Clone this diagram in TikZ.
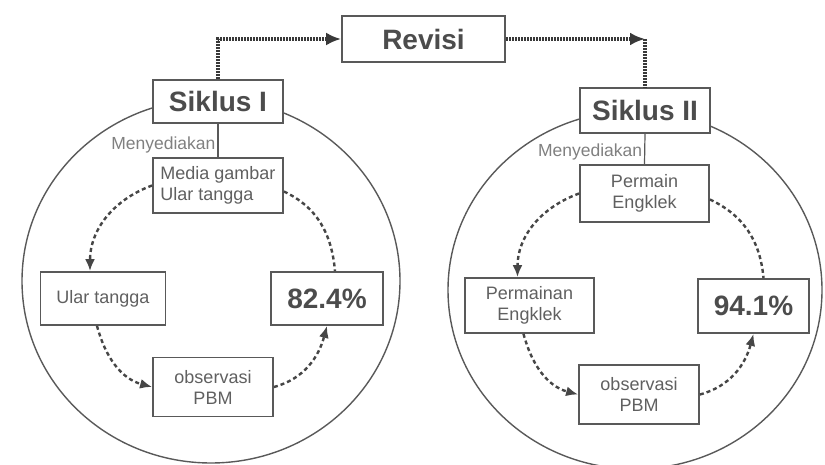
\documentclass[tikz,border=0pt]{standalone}
\usepackage{fontspec}
\setmainfont{Liberation Sans}
\usetikzlibrary{arrows.meta}

\begin{document}
\begin{tikzpicture}[x=1pt,y=1pt,
  box/.style={draw=gray!70!black,line width=1.8pt,fill=white,inner sep=1pt,text=gray!75!black,font=\fontsize{18}{21}\selectfont,align=center},
  head/.style={box,font=\fontsize{28}{30}\selectfont\bfseries,text=gray!60!black},
  ring/.style={draw=gray!70!black,line width=1.4pt},
  flow/.style={draw=gray!45!black,line width=3.5pt,dash pattern=on 2pt off 1pt},
  loopline/.style={draw=gray!55!black,line width=2.4pt,dash pattern=on 4pt off 3pt},
  link/.style={draw=gray!70!black,line width=1.2pt},
  lbl/.style={text=gray,font=\fontsize{17.5}{20}\selectfont,inner sep=2pt}]
\useasboundingbox (0,0) rectangle (825,-465);
\draw[ring] (211,-281) ellipse [x radius=189, y radius=182];
\draw[ring] (635,-290) ellipse [x radius=187, y radius=179];

\node[head,minimum width=163pt,minimum height=46pt] (rev) at (423.5,-39) {Revisi};
\node[head,minimum width=130pt,minimum height=43pt] (s1) at (218,-101.5) {Siklus I};
\node[head,minimum width=130pt,minimum height=45pt] (s2) at (645,-110.5) {Siklus II};

\node[box,align=left,minimum width=130pt,minimum height=55pt] (m1) at (218,-185.5) {Media gambar\\Ular tangga};
\node[box,minimum width=125pt,minimum height=53pt] (u1) at (103,-298.5) {Ular tangga};
\node[head,minimum width=112pt,minimum height=53pt] (p1) at (327,-298.5) {82.4\%};
\node[box,minimum width=120pt,minimum height=59pt] (o1) at (213,-387) {observasi\\PBM};

\node[box,minimum width=129pt,minimum height=57pt] (m2) at (644.5,-193.5) {Permain\\Engklek};
\node[box,minimum width=129pt,minimum height=55pt] (u2) at (529.5,-305.5) {Permainan\\Engklek};
\node[head,minimum width=111pt,minimum height=54pt] (p2) at (753.5,-306) {94.1\%};
\node[box,minimum width=120pt,minimum height=59pt] (o2) at (639,-394.5) {observasi\\PBM};

\coordinate (c2) at (s2.north |- rev.east);
\draw[flow,-{Latex[length=15pt,width=13pt]}] (s1.north) |- (rev.west);
\draw[flow,-{Latex[length=15pt,width=13pt]}] (rev.east) -- (c2);
\draw[flow] (c2) -- (s2.north);

\draw[link] (s1.south) -- node[lbl,left,pos=0.63] {Menyediakan} (m1.north);
\draw[link] (s2.south) -- node[lbl,left,pos=0.6] {Menyediakan} (m2.north);

\draw[loopline,-{Latex[length=12pt,width=10pt]}] (m1.west) to[out=200,in=90] ([xshift=-13pt]u1.north);
\draw[loopline,-{Latex[length=12pt,width=10pt]}] ([xshift=-6pt]u1.south) to[out=-75,in=165] (o1.west);
\draw[loopline,-{Latex[length=12pt,width=10pt]}] (o1.east) to[out=15,in=-105] (p1.south);
\draw[loopline] ([yshift=-6pt]m1.east) to[out=-25,in=95] ([xshift=8pt]p1.north);

\draw[loopline,-{Latex[length=12pt,width=10pt]}] (m2.west) to[out=200,in=90] ([xshift=-12pt]u2.north);
\draw[loopline,-{Latex[length=12pt,width=10pt]}] ([xshift=-6pt]u2.south) to[out=-75,in=165] (o2.west);
\draw[loopline,-{Latex[length=12pt,width=10pt]}] (o2.east) to[out=15,in=-105] (p2.south);
\draw[loopline] ([yshift=-6pt]m2.east) to[out=-25,in=95] ([xshift=10pt]p2.north);
\end{tikzpicture}
\end{document}
